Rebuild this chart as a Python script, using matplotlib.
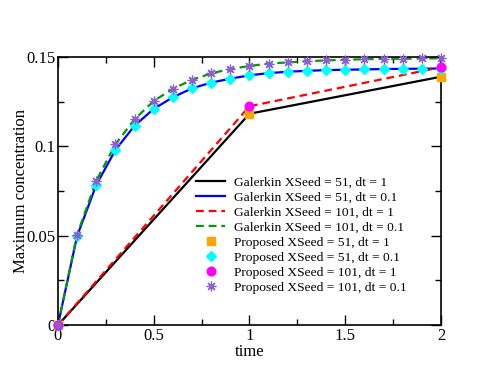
import matplotlib
matplotlib.use("Agg")
import matplotlib.pyplot as plt
from matplotlib.ticker import MultipleLocator
import numpy as np

plt.rcParams['font.family'] = ['Liberation Serif', 'DejaVu Serif']
plt.rcParams['mathtext.fontset'] = 'stix'

t_dt1 = [0.0, 1.0, 2.0]
t_dt01 = [0.0, 0.1, 0.2, 0.3, 0.4, 0.5, 0.6, 0.7, 0.8, 0.9, 1.0,
          1.1, 1.2, 1.3, 1.4, 1.5, 1.6, 1.7, 1.8, 1.9, 2.0]

gal51_dt1 = [0.0, 0.1183, 0.1390]
gal101_dt1 = [0.0, 0.1225, 0.1443]
gal51_dt01 = [0.0, 0.0498, 0.0784, 0.0980, 0.1116, 0.1210, 0.1275, 0.1325,
              0.1357, 0.1379, 0.1398, 0.1410, 0.1418, 0.1423, 0.1427, 0.1429,
              0.1431, 0.1433, 0.1434, 0.1435, 0.1436]
gal101_dt01 = [0.0, 0.0505, 0.0808, 0.1012, 0.1152, 0.1254, 0.1323, 0.1372,
               0.1409, 0.1433, 0.1450, 0.1464, 0.1470, 0.1477, 0.1481, 0.1485,
               0.1488, 0.1490, 0.1491, 0.1492, 0.1493]
prop51_dt1 = gal51_dt1
prop101_dt1 = gal101_dt1
prop51_dt01 = gal51_dt01
prop101_dt01 = gal101_dt01

fig = plt.figure(figsize=(4.95, 3.83), dpi=100)
ax = fig.add_axes([0.117, 0.151, 0.774, 0.700])

lw = 1.6
dash = (0, (3.5, 2.2))
ax.plot(t_dt1, gal51_dt1, color='black', lw=lw, label='Galerkin XSeed = 51, dt = 1')
ax.plot(t_dt01, gal51_dt01, color='#0000ff', lw=lw, label='Galerkin XSeed = 51, dt = 0.1')
ax.plot(t_dt1, gal101_dt1, color='#ff0000', lw=lw, ls=dash, label='Galerkin XSeed = 101, dt = 1')
ax.plot(t_dt01, gal101_dt01, color='#009a00', lw=lw, ls=dash, label='Galerkin XSeed = 101, dt = 0.1')
ax.plot(t_dt1, prop51_dt1, ls='none', marker='s', ms=5.4, color='#ffa500',
        label='Proposed XSeed = 51, dt = 1', clip_on=False, zorder=5)
ax.plot(t_dt01, prop51_dt01, ls='none', marker='D', ms=5.0, color='#00ffff',
        label='Proposed XSeed = 51, dt = 0.1', clip_on=False, zorder=5)
ax.plot(t_dt1, prop101_dt1, ls='none', marker='o', ms=6.2, color='#ff00ff',
        label='Proposed XSeed = 101, dt = 1', clip_on=False, zorder=5)
ax.plot(t_dt01, prop101_dt01, ls='none', marker=(8, 2, 0), ms=7, mew=0.9, color='#8a5fd0',
        label='Proposed XSeed = 101, dt = 0.1', clip_on=False, zorder=6)

ax.set_xlim(0, 2)
ax.set_ylim(0, 0.15)
ax.xaxis.set_minor_locator(MultipleLocator(0.25))
ax.yaxis.set_minor_locator(MultipleLocator(0.025))
ax.set_xticks([0, 0.5, 1, 1.5, 2])
ax.set_xticklabels(['0', '0.5', '1', '1.5', '2'])
ax.set_yticks([0, 0.05, 0.1, 0.15])
ax.set_yticklabels(['0', '0.05', '0.1', '0.15'])
ax.tick_params(which='both', direction='in', top=True, right=True, labelsize=12, width=1, pad=2)
ax.tick_params(which='major', length=7)
ax.tick_params(which='minor', length=4)
for s in ax.spines.values():
    s.set_linewidth(1.2)

ax.set_xlabel('time', fontsize=12, labelpad=0)
ax.set_ylabel('Maximum concentration', fontsize=12, labelpad=-2)

leg = ax.legend(loc='upper left', bbox_to_anchor=(0.396, 0.540), bbox_transform=fig.transFigure,
                frameon=False, fontsize=9.7, borderpad=0, borderaxespad=0,
                handlelength=2.15, handletextpad=0.67, labelspacing=0.19)
fig.savefig('out.png', dpi=100)
